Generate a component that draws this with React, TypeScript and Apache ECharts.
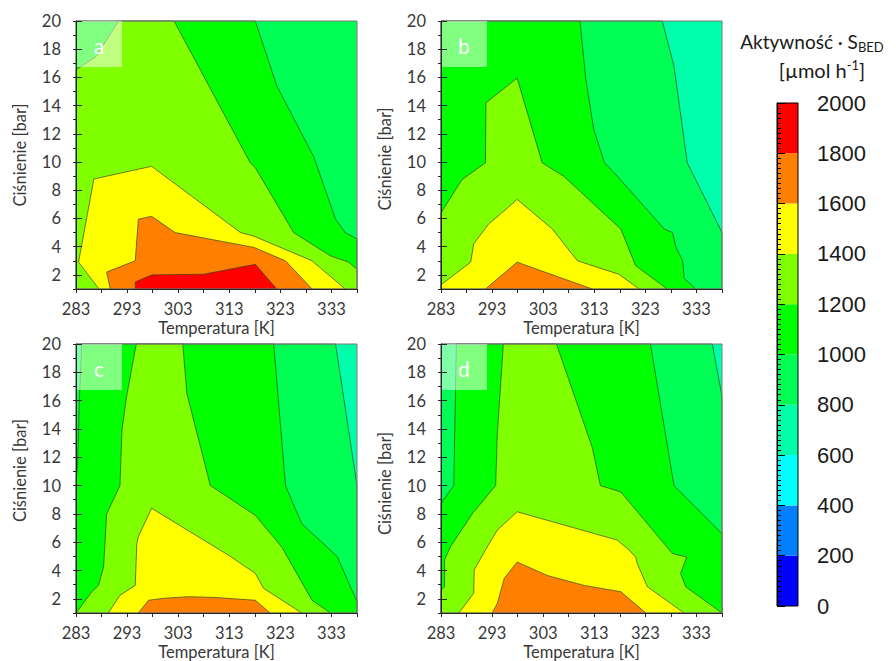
import React, { useEffect, useRef } from 'react';
import * as echarts from 'echarts';

// ---------- axes ranges ----------
const T_MIN = 283;
const T_MAX = 338;
const P_MIN = 1;
const P_MAX = 20;
const P_MAJOR_TICKS = [2, 4, 6, 8, 10, 12, 14, 16, 18, 20];

// ---------- colour scale ----------
const LEVELS = [0, 200, 400, 600, 800, 1000, 1200, 1400, 1600, 1800, 2000];
const BAND_COLORS = ['#0000FF', '#0080FF', '#00FFFF', '#00FFAA', '#00FF55', '#00FF00', '#80FF00', '#FFFF00', '#FF8000', '#FF0000'];

const PANEL_LABELS = ['a', 'b', 'c', 'd'];
const PANEL_BASE_LEVELS = [800, 600, 600, 600];

// ---------- contour regions (value >= level), [T (K), p (bar)] ----------
// panel a
const A_1000 = [[283, 1], [283, 20], [318.1, 20], [322.3, 15.4], [329.5, 10.4], [333.8, 5.95], [335.7, 5.0], [338, 4.55], [338, 1]];
const A_1200 = [[283, 1], [283, 16.55], [287, 17.5], [291.3, 20], [302.2, 20], [317.1, 9.95], [318.1, 9.6], [325.6, 5.0], [332.8, 3.35], [336.4, 2.9], [338, 2.4], [338, 1]];
const A_1400 = [[287.5, 1], [283.5, 2.9], [286.5, 8.8], [297.8, 9.7], [315.2, 5.0], [317.8, 4.75], [329.2, 3.0], [335.7, 1]];
const A_1600 = [[289.7, 1], [289, 2.2], [294.6, 3.0], [295.2, 5.95], [297.8, 6.15], [302.4, 5.0], [317.8, 3.95], [324, 3.0], [329.2, 1]];
const A_1800 = [[294.6, 1], [294.6, 1.5], [297.8, 2.0], [308, 2.05], [318.1, 2.75], [322.3, 1]];

// panel b
const B_800 = [[283, 1], [283, 20], [326.3, 20], [328.6, 16.8], [331.2, 9.95], [338, 5.0], [338, 1]];
const B_1000 = [[283, 1], [283, 20], [310.2, 20], [311.3, 16], [312.9, 12.3], [315, 9.95], [317.5, 9.0], [326.7, 5.25], [328.3, 5.0], [329, 3.95], [330.3, 3.0], [330.6, 1.75], [332.9, 1]];
const B_1200 = [[283, 1], [283, 6.4], [287.1, 8.75], [291.7, 9.95], [291.8, 14.2], [297.9, 15.95], [302.8, 9.95], [307, 9.0], [318.2, 5.25], [321.1, 2.65], [327.3, 1]];
const B_1400 = [[283, 1], [283, 1.3], [288.8, 2.9], [289.4, 4.2], [292.3, 5.6], [294.6, 6.3], [297.9, 7.35], [304.8, 5.25], [309.7, 3.0], [317.8, 2.05], [321.8, 1]];
const B_1600 = [[291.7, 1], [297.9, 2.9], [312.6, 1]];

// panel c
const C_800 = [[283, 1], [283, 20], [333.8, 20], [338, 10], [338, 1]];
const C_1000 = [[283, 1], [283, 10.3], [283.3, 11.5], [283.65, 15.9], [284.1, 20], [321.7, 20], [324, 10], [327.2, 7.3], [334.1, 5.0], [338, 1.8], [338, 1]];
const C_1200 = [[283, 1], [286.1, 2.5], [287.4, 2.95], [288.4, 4.25], [289, 8.0], [291.6, 10], [292, 13.9], [292.9, 16.3], [294.8, 20], [303.9, 20], [304.7, 16.5], [309.3, 10], [318.1, 7.9], [323.3, 5.65], [329.2, 1.9], [332.8, 1]];
const C_1400 = [[289.3, 1], [291.6, 2.25], [294.6, 2.95], [294.9, 5.9], [295.2, 6.4], [297.8, 8.4], [313.2, 5.0], [318.1, 3.8], [319.7, 2.75], [327.2, 1]];
const C_1600 = [[295.2, 1], [297.2, 1.9], [300.5, 2.05], [305, 2.15], [310, 2.1], [318.1, 1.9], [321, 1]];

// panel d
const D_800 = [[283, 1], [283, 20], [336.1, 20], [338, 16.3], [338, 1]];
const D_1000 = [[283, 1], [283, 8.75], [285.5, 10], [286, 20], [324, 20], [328.6, 10], [338, 6.6], [338, 1]];
const D_1200 = [[283, 1], [283, 2.6], [283.7, 2.85], [283.7, 4.75], [284.8, 5.65], [289.1, 8.0], [293.7, 10], [294, 13.5], [295.2, 20], [305.6, 20], [312.6, 12.7], [314.2, 10], [318.2, 9.55], [328.3, 5.2], [331.1, 4.95], [329.9, 3.8], [330.9, 2.85], [338, 1]];
const D_1400 = [[286.5, 1], [289.4, 2.4], [289.5, 4.05], [291.7, 5.45], [294, 6.85], [297.9, 8.15], [317.5, 6.15], [319.8, 5.45], [321.1, 4.95], [321.4, 4.5], [323.4, 2.85], [330.6, 1]];
const D_1600 = [[293, 1], [294, 1.65], [295.4, 3.45], [297.9, 4.6], [303.8, 3.65], [311, 2.95], [318.2, 2.5], [323.1, 1]];

const PANEL_REGIONS: [number, number[][]][][] = [
  [[1000, A_1000], [1200, A_1200], [1400, A_1400], [1600, A_1600], [1800, A_1800]],
  [[800, B_800], [1000, B_1000], [1200, B_1200], [1400, B_1400], [1600, B_1600]],
  [[800, C_800], [1000, C_1000], [1200, C_1200], [1400, C_1400], [1600, C_1600]],
  [[800, D_800], [1000, D_1000], [1200, D_1200], [1400, D_1400], [1600, D_1600]],
];

const X_NAME = 'Temperatura [K]';
const Y_NAME = 'Ciśnienie [bar]';

// ---------- layout ----------
const GRIDS = [
  { left: 76, top: 21, width: 281, height: 268 },
  { left: 441, top: 21, width: 281, height: 268 },
  { left: 76, top: 344, width: 281, height: 269 },
  { left: 441, top: 344, width: 281, height: 269 },
];
// [left, right] padding of the rotated y-axis name (shifts it along the axis)
const Y_NAME_PADDING = [
  [0, 0, 0, 0],
  [0, 8, 0, 0],
  [0, 0, 0, 16],
  [0, 10, 0, 0],
];
const COLORBAR_GRID = { left: 777, top: 103, width: 21, height: 503 };

const AXIS_FONT = 'Lato';
const AXIS_TEXT = '#383838';
const AXIS_LINE = '#262626';
const AXIS_FONT_SIZE = 16.5;

const bandColor = (level: number) => BAND_COLORS[Math.round(level / 200)];

function makePanelRender(i: number) {
  return (_params: any, api: any) => {
    const toPx = (t: number, p: number) => api.coord([t - T_MIN, p]);
    const tl = toPx(T_MIN, P_MAX);
    const br = toPx(T_MAX, P_MIN);
    const children: any[] = [];
    children.push({
      type: 'rect',
      shape: { x: tl[0], y: tl[1], width: br[0] - tl[0], height: br[1] - tl[1] },
      style: { fill: bandColor(PANEL_BASE_LEVELS[i]) },
    });
    PANEL_REGIONS[i].forEach(([level, pts]) => {
      children.push({
        type: 'polygon',
        shape: { points: pts.map(([t, p]) => toPx(t, p)) },
        style: { fill: bandColor(level), stroke: 'rgba(50,62,40,0.85)', lineWidth: 0.8 },
      });
    });
    children.push({
      type: 'rect',
      shape: { x: tl[0], y: tl[1], width: br[0] - tl[0], height: br[1] - tl[1] },
      style: { fill: 'none', stroke: '#7a7a7a', lineWidth: 1 },
    });
    children.push({
      type: 'rect',
      shape: { x: tl[0], y: tl[1], width: 46, height: 46 },
      style: { fill: 'rgba(255,255,255,0.5)' },
    });
    children.push({
      type: 'text',
      style: {
        text: PANEL_LABELS[i],
        x: tl[0] + 23,
        y: tl[1] + 24,
        fill: '#ffffff',
        fontSize: 21,
        fontFamily: AXIS_FONT,
        align: 'center',
        verticalAlign: 'middle',
      },
    });
    return { type: 'group', children };
  };
}

export default function App() {
  const ref = useRef<HTMLDivElement>(null);

  useEffect(() => {
    if (!ref.current) return;
    const chart = echarts.init(ref.current, undefined, { renderer: 'svg' });

    const grids: any[] = GRIDS.map((g) => ({ ...g, containLabel: false }));
    grids.push({ ...COLORBAR_GRID, containLabel: false });

    const xAxes: any[] = GRIDS.map((_, i) => ({
      gridIndex: i,
      type: 'value',
      min: 0,
      max: T_MAX - T_MIN,
      interval: 5,
      z: 10,
      axisLine: { show: true, onZero: false, lineStyle: { color: AXIS_LINE, width: 1 } },
      axisTick: { show: true, length: 4, lineStyle: { color: AXIS_LINE } },
      axisLabel: {
        formatter: (v: number) => (v % 10 === 0 ? String(v + T_MIN) : ''),
        margin: 11,
        fontSize: AXIS_FONT_SIZE,
        fontFamily: AXIS_FONT,
        color: AXIS_TEXT,
      },
      splitLine: { show: false },
      name: X_NAME,
      nameLocation: 'middle',
      nameGap: 30,
      nameTextStyle: { fontSize: AXIS_FONT_SIZE, fontFamily: AXIS_FONT, color: AXIS_TEXT },
    }));
    xAxes.push({ gridIndex: 4, type: 'value', min: 0, max: 1, show: false });

    const yAxes: any[] = GRIDS.map((_, i) => ({
      gridIndex: i,
      type: 'value',
      min: P_MIN,
      max: P_MAX,
      interval: 1,
      z: 10,
      axisLine: { show: true, onZero: false, lineStyle: { color: AXIS_LINE, width: 1 } },
      axisTick: { show: true, length: 3, lineStyle: { color: AXIS_LINE } },
      axisLabel: {
        formatter: (v: number) => (P_MAJOR_TICKS.indexOf(v) >= 0 ? String(v) : ''),
        margin: 15,
        fontSize: AXIS_FONT_SIZE,
        fontFamily: AXIS_FONT,
        color: AXIS_TEXT,
      },
      splitLine: { show: false },
      name: Y_NAME,
      nameLocation: 'middle',
      nameGap: 48,
      nameRotate: 90,
      nameTextStyle: { fontSize: AXIS_FONT_SIZE, fontFamily: AXIS_FONT, color: AXIS_TEXT, padding: Y_NAME_PADDING[i] },
    }));
    yAxes.push({
      gridIndex: 4,
      type: 'value',
      position: 'right',
      min: LEVELS[0],
      max: LEVELS[LEVELS.length - 1],
      interval: 200,
      z: 10,
      axisLine: { show: true, lineStyle: { color: '#000', width: 1 } },
      axisTick: { show: true, length: 8, lineStyle: { color: '#000' } },
      minorTick: { show: true, splitNumber: 10, length: 4, lineStyle: { color: '#000' } },
      axisLabel: {
        formatter: (v: number) => String(v),
        margin: 19,
        fontSize: 22,
        fontFamily: 'Liberation Sans',
        color: '#1a1a1a',
      },
      splitLine: { show: false },
    });
    // long major ticks of the pressure axes (even values)
    GRIDS.forEach((_, i) => {
      yAxes.push({
        gridIndex: i,
        type: 'value',
        min: P_MIN,
        max: P_MAX,
        interval: 1,
        z: 10,
        axisLine: { show: false },
        axisTick: { show: true, length: 6, customValues: P_MAJOR_TICKS, lineStyle: { color: AXIS_LINE } },
        axisLabel: { show: false },
        splitLine: { show: false },
      });
    });

    const series: any[] = GRIDS.map((_, i) => ({
      type: 'custom',
      xAxisIndex: i,
      yAxisIndex: i,
      data: [[0, P_MIN]],
      clip: false,
      silent: true,
      renderItem: makePanelRender(i),
    }));

    const bands = LEVELS.slice(0, -1).map((lo, k) => [lo, LEVELS[k + 1]]);
    series.push({
      type: 'custom',
      xAxisIndex: 4,
      yAxisIndex: 4,
      data: bands,
      silent: true,
      clip: false,
      renderItem: (_p: any, api: any) => {
        const lo = api.value(0);
        const hi = api.value(1);
        const a = api.coord([0, hi]);
        const b = api.coord([1, lo]);
        return {
          type: 'rect',
          shape: { x: a[0], y: a[1], width: b[0] - a[0], height: b[1] - a[1] },
          style: { fill: bandColor(lo) },
        };
      },
    });
    series.push({
      type: 'custom',
      xAxisIndex: 4,
      yAxisIndex: 4,
      data: [[0, 0]],
      silent: true,
      clip: false,
      z: 5,
      renderItem: (_p: any, api: any) => {
        const a = api.coord([0, LEVELS[LEVELS.length - 1]]);
        const b = api.coord([1, LEVELS[0]]);
        return {
          type: 'rect',
          shape: { x: a[0], y: a[1], width: b[0] - a[0], height: b[1] - a[1] },
          style: { fill: 'none', stroke: '#000', lineWidth: 1 },
        };
      },
    });

    chart.setOption({
      animation: false,
      backgroundColor: '#ffffff',
      grid: grids,
      xAxis: xAxes,
      yAxis: yAxes,
      series,
      graphic: [
        {
          type: 'text',
          x: 812,
          y: 41,
          style: {
            text: '{m|Aktywność · S}{s|BED}',
            align: 'center',
            verticalAlign: 'middle',
            fill: '#1a1a1a',
            rich: {
              m: { fontSize: 19, fontFamily: AXIS_FONT, lineHeight: 24, fill: '#1a1a1a' },
              s: { fontSize: 13, fontFamily: AXIS_FONT, lineHeight: 13, verticalAlign: 'bottom', fill: '#1a1a1a' },
            },
          },
        },
        {
          type: 'text',
          x: 822,
          y: 70,
          style: {
            text: '{m|[µmol h}{p|-1}{m|]}',
            align: 'center',
            verticalAlign: 'middle',
            fill: '#1a1a1a',
            rich: {
              m: { fontSize: 20, fontFamily: AXIS_FONT, lineHeight: 24, fill: '#1a1a1a' },
              p: { fontSize: 13, fontFamily: AXIS_FONT, lineHeight: 13, verticalAlign: 'top', fill: '#1a1a1a' },
            },
          },
        },
      ],
    });

    return () => chart.dispose();
  }, []);

  return (
    <div
      ref={ref}
      style={{ position: 'absolute', left: 0, top: 0, width: 896, height: 661, background: '#fff' }}
    />
  );
}
